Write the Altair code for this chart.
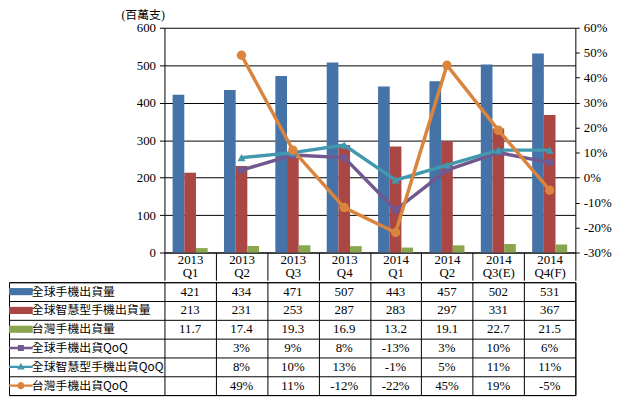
import altair as alt
import pandas as pd

# ---------------- data ----------------
quarters = ["2013 Q1", "2013 Q2", "2013 Q3", "2013 Q4",
            "2014 Q1", "2014 Q2", "2014 Q3(E)", "2014 Q4(F)"]
global_ship = [421, 434, 471, 507, 443, 457, 502, 531]
smart_ship = [213, 231, 253, 287, 283, 297, 331, 367]
taiwan_ship = [11.7, 17.4, 19.3, 16.9, 13.2, 19.1, 22.7, 21.5]
global_qoq = [None, 3, 9, 8, -13, 3, 10, 6]
smart_qoq = [None, 8, 10, 13, -1, 5, 11, 11]
taiwan_qoq = [None, 49, 11, -12, -22, 45, 19, -5]

bar_series = ["全球手機出貨量", "全球智慧型手機出貨量", "台灣手機出貨量"]
line_series = ["全球手機出貨QoQ", "全球智慧型手機出貨QoQ", "台灣手機出貨QoQ"]
series_order = bar_series + line_series
series_colors = ["#4572A7", "#AA4643", "#89A54E", "#71588F", "#4198AF", "#DB843D"]

# legend keys (bars: rectangle swatch; lines: line + marker)
legend_paths = [
    "M-2,-0.6H2V0.6H-2Z",
    "M-2,-0.6H2V0.6H-2Z",
    "M-2,-0.6H2V0.6H-2Z",
    "M-2,-0.2H2V0.2H-2ZM-0.5,-0.5H0.5V0.5H-0.5Z",
    "M-2,-0.2H2V0.2H-2ZM0,-0.7L0.64,0.44L-0.64,0.44Z",
    "M-2,-0.2H2V0.2H-2ZM-0.6,0A0.6,0.6,0,1,1,0.6,0A0.6,0.6,0,1,1,-0.6,0Z",
]
marker_shapes = ["square", "triangle-up", "circle"]
marker_sizes = [45, 90, 90]

bar_values = [global_ship, smart_ship, taiwan_ship]
line_values = [global_qoq, smart_qoq, taiwan_qoq]

bars_df = pd.DataFrame([
    {"quarter": q, "series": s, "value": v}
    for s, vals in zip(bar_series, bar_values)
    for q, v in zip(quarters, vals)
])
lines_df = pd.DataFrame([
    {"quarter": q, "series": s, "value": v}
    for s, vals in zip(line_series, line_values)
    for q, v in zip(quarters, vals) if v is not None
])
col_of = {q: i + 0.5 for i, q in enumerate(quarters)}
table_rows = []
for s, vals in zip(bar_series, bar_values):
    for q, v in zip(quarters, vals):
        table_rows.append({"col": col_of[q], "series": s, "text": f"{v:g}"})
for s, vals in zip(line_series, line_values):
    for q, v in zip(quarters, vals):
        if v is not None:
            table_rows.append({"col": col_of[q], "series": s, "text": f"{v}%"})
table_df = pd.DataFrame(table_rows)
keys_df = pd.DataFrame({"series": series_order})

# ---------------- layout ----------------
W, H = 415, 227          # plot area of the bar/line chart
NQ = len(quarters)
COLW = W / NQ
LABEL_W = 157            # width of the data-table label column
FULL_W = LABEL_W + W
HEADER_H = 28
ROW_H = 19
SERIF = "Liberation Serif"
CJK = "Noto Sans CJK TC"

color_scale = alt.Scale(domain=series_order, range=series_colors)

x_enc = alt.X(
    "quarter:N", sort=quarters,
    scale=alt.Scale(domain=quarters, range=[LABEL_W, FULL_W],
                    paddingInner=0, paddingOuter=0),
    axis=alt.Axis(title=None, labelExpr="split(datum.label, ' ')", labelAngle=0,
                  tickBand="extent", tickSize=HEADER_H, tickColor="#000",
                  domainColor="#000", labelPadding=-27, labelBaseline="top",
                  labelFont=SERIF, labelFontSize=13, labelLineHeight=13,
                  labelColor="#000", labelOverlap=False, grid=False),
)

left_axis = alt.Axis(
    title="(百萬支)", titleAngle=0, titleX=-22, titleY=-6, titleAlign="center",
    titleBaseline="bottom", titleFont=f"{SERIF}, {CJK}", titleFontSize=12,
    titleFontWeight="normal", titleColor="#000",
    values=[0, 100, 200, 300, 400, 500, 600], grid=True, gridColor="#000",
    gridWidth=1, tickSize=5, tickColor="#000", domainColor="#000",
    labelPadding=4, labelFont=SERIF, labelFontSize=13, labelColor="#000",
    offset=-LABEL_W, minExtent=0,
)
right_axis = alt.Axis(
    orient="right", title=None, values=list(range(-30, 70, 10)),
    labelExpr="datum.value + '%'", grid=False, tickSize=4, tickColor="#000",
    domainColor="#000", labelPadding=4, labelFont=SERIF, labelFontSize=13,
    labelColor="#000",
)
pct_scale = alt.Scale(domain=[-30, 60], nice=False, zero=False)

bars = alt.Chart(bars_df).mark_bar().encode(
    x=x_enc,
    xOffset=alt.XOffset("series:N", sort=bar_series,
                        scale=alt.Scale(domain=bar_series, paddingInner=0,
                                        paddingOuter=0.7)),
    y=alt.Y("value:Q", scale=alt.Scale(domain=[0, 600], nice=False),
            axis=left_axis),
    color=alt.Color("series:N", scale=color_scale, legend=None),
)
lines = alt.Chart(lines_df).mark_line(strokeWidth=3.5).encode(
    x=x_enc,
    y=alt.Y("value:Q", scale=pct_scale, axis=right_axis),
    color=alt.Color("series:N", scale=color_scale, legend=None),
)
points = alt.Chart(lines_df).mark_point(filled=True, opacity=1).encode(
    x=x_enc,
    y=alt.Y("value:Q", scale=pct_scale, axis=None),
    color=alt.Color("series:N", scale=color_scale, legend=None),
    shape=alt.Shape("series:N", scale=alt.Scale(domain=line_series,
                                                range=marker_shapes), legend=None),
    size=alt.Size("series:N", scale=alt.Scale(domain=line_series,
                                              range=marker_sizes), legend=None),
)
top = alt.layer(bars, lines, points).resolve_scale(y="independent").properties(
    width=FULL_W, height=H, view=alt.ViewBackground(stroke="transparent"))

# ---------------- data table ----------------
tx = alt.X("col:Q",
           scale=alt.Scale(domain=[-LABEL_W / COLW, NQ], nice=False, zero=False),
           axis=alt.Axis(title=None, values=list(range(0, NQ + 1)), grid=True,
                         gridColor="#000", labels=False, ticks=False,
                         domain=False, minExtent=0))
ty = alt.Y("series:N", sort=series_order,
           scale=alt.Scale(domain=series_order, paddingInner=0, paddingOuter=0),
           axis=alt.Axis(title=None, grid=True, gridColor="#000",
                         tickBand="extent", labels=False, ticks=False,
                         domain=False, minExtent=0))
cells = alt.Chart(table_df).mark_text(font=SERIF, fontSize=13, color="#000").encode(
    x=tx, y=ty, text="text:N")

key_legend = alt.Legend(
    title=None, orient="none", legendX=6, legendY=3.5, direction="vertical",
    symbolSize=144, symbolOpacity=1, symbolStrokeWidth=0, labelFont=CJK,
    labelFontSize=12, labelColor="#000", labelOffset=5, rowPadding=7,
    padding=0, labelLimit=300,
)
keys = alt.Chart(keys_df).mark_point(filled=True, opacity=0).encode(
    y=ty,
    color=alt.Color("series:N", scale=alt.Scale(domain=series_order,
                                                range=series_colors),
                    legend=key_legend),
    shape=alt.Shape("series:N", scale=alt.Scale(domain=series_order,
                                                range=legend_paths),
                    legend=key_legend),
)
table = alt.layer(cells, keys).properties(width=FULL_W, height=ROW_H * 6)

chart = alt.vconcat(top, table, spacing=0).resolve_scale(
    color="independent", shape="independent", size="independent"
).properties(
    padding={"left": 0, "top": -2, "right": 0, "bottom": 0}
).configure_view(stroke="#000", strokeWidth=1)

chart.save("out.html", embed_options={"renderer": "svg", "actions": False})
